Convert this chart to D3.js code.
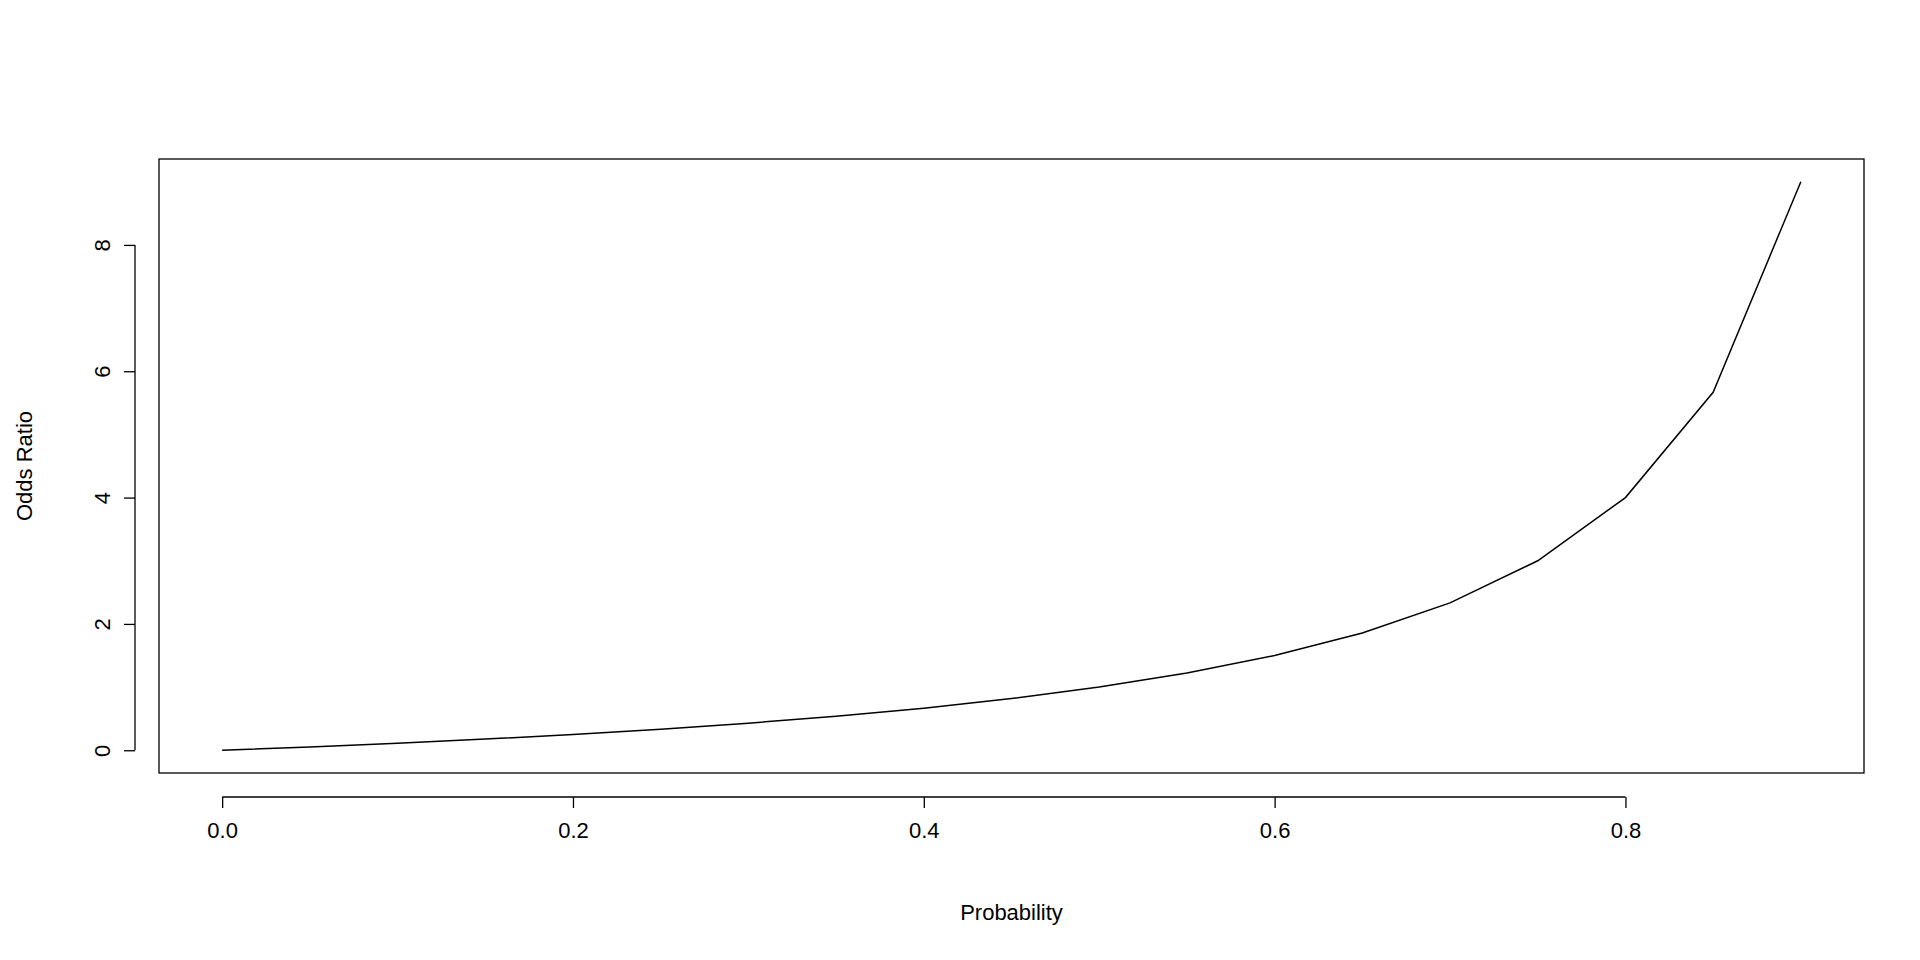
<!DOCTYPE html>
<html>
<head>
<meta charset="utf-8">
<script src="https://cdn.jsdelivr.net/npm/d3@7"></script>
<style>
  body { margin:0; background:#fff; }
  text { font-family: "Liberation Sans", Arial, sans-serif; fill:#000; }
</style>
</head>
<body>
<svg id="chart" width="1920" height="960"></svg>
<script>
// probabilities and their odds
const probs = [0, 0.05, 0.1, 0.15, 0.2, 0.25, 0.3, 0.35, 0.4, 0.45, 0.5, 0.55, 0.6, 0.65, 0.7, 0.75, 0.8, 0.85, 0.9]
const odds = [0, 0.0526, 0.1111, 0.1765, 0.25, 0.3333, 0.4286, 0.5385, 0.6667, 0.8182, 1, 1.2222, 1.5, 1.8571, 2.3333, 3, 4, 5.6667, 9]
const xTicks = [0, 0.2, 0.4, 0.6, 0.8]
const yTicks = [0, 2, 4, 6, 8]

const plotL = 159, plotR = 1864, plotT = 159, plotB = 773
const svg = d3.select('#chart')

const x = d3.scaleLinear().domain([-0.036, 0.936]).range([plotL, plotR])
const y = d3.scaleLinear().domain([-0.36, 9.36]).range([plotB, plotT])

svg.append('rect')
  .attr('x', plotL).attr('y', plotT)
  .attr('width', plotR - plotL).attr('height', plotB - plotT)
  .attr('fill', 'none').attr('stroke', '#000').attr('stroke-width', 1.3)

const xAxis = svg.append('g')
  .attr('transform', `translate(0,${plotB + 24})`)
  .call(d3.axisBottom(x).tickValues(xTicks).tickFormat(d3.format('.1f')).tickSize(11).tickPadding(14))
xAxis.select('.domain').attr('d', `M${x(0)},0H${x(0.8)}`)

const yAxis = svg.append('g')
  .attr('transform', `translate(${plotL - 24},0)`)
  .call(d3.axisLeft(y).tickValues(yTicks).tickFormat(d3.format('d')).tickSize(11).tickPadding(14))
yAxis.select('.domain').attr('d', `M0,${y(0)}V${y(8)}`)
yAxis.selectAll('.tick text')
  .attr('transform', 'rotate(-90)')
  .attr('x', 0).attr('dy', 0).attr('y', -25)
  .attr('text-anchor', 'middle')

svg.selectAll('.domain, .tick line').attr('stroke', '#000').attr('stroke-width', 1.3)
svg.selectAll('.tick text').attr('font-size', 22).attr('font-family', '"Liberation Sans", Arial, sans-serif')

const line = d3.line().x((d, i) => x(probs[i])).y(d => y(d))
svg.append('path')
  .datum(odds)
  .attr('d', line)
  .attr('fill', 'none')
  .attr('stroke', '#000')
  .attr('stroke-width', 1.5)

svg.append('text')
  .attr('x', (plotL + plotR) / 2).attr('y', 920)
  .attr('text-anchor', 'middle').attr('font-size', 22)
  .text('Probability')

svg.append('text')
  .attr('transform', `translate(32,${(plotT + plotB) / 2}) rotate(-90)`)
  .attr('text-anchor', 'middle').attr('font-size', 22)
  .text('Odds Ratio')
</script>
</body>
</html>
